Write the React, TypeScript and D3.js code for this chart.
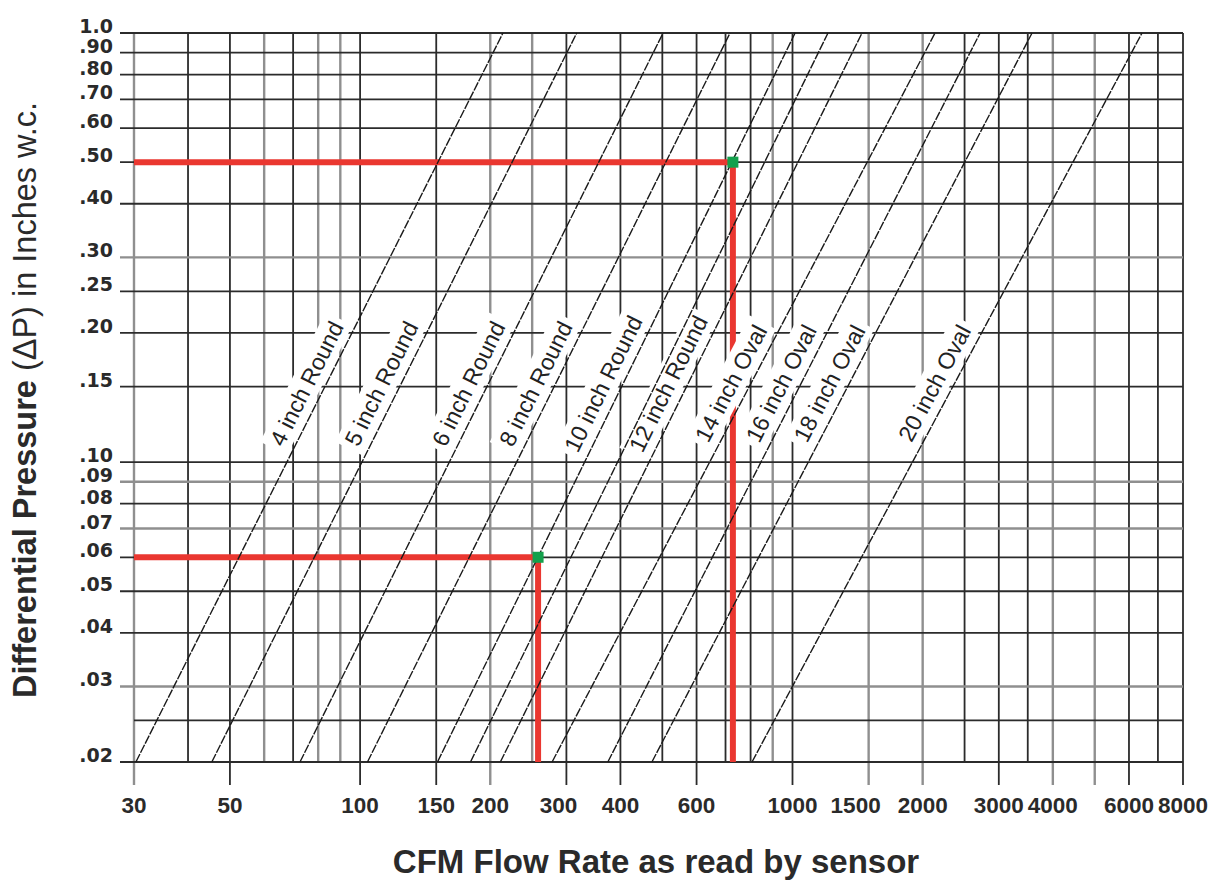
import React from "react";
import * as d3 from "d3";

// ---- data ----
const xTickValues = [30, 50, 100, 150, 200, 300, 400, 600, 1000, 1500, 2000, 3000, 4000, 6000, 8000];
const xTickLabels = ["30", "50", "100", "150", "200", "300", "400", "600", "1000", "1500", "2000", "3000", "4000", "6000", "8000"];
const xExtraTicks = [5000];
const xGridDark = [40, 50, 70, 100, 150, 300, 400, 500, 600, 700, 800, 1000, 2500, 3000, 3500, 6000, 7000, 8000];
const xGridLight = [30, 60, 80, 90, 200, 250, 900, 1500, 2000, 4000, 5000];

const yTickValues = [1.0, 0.9, 0.8, 0.7, 0.6, 0.5, 0.4, 0.3, 0.25, 0.2, 0.15, 0.1, 0.09, 0.08, 0.07, 0.06, 0.05, 0.04, 0.03, 0.02];
const yTickLabels = ["1.0", ".90", ".80", ".70", ".60", ".50", ".40", ".30", ".25", ".20", ".15", ".10", ".09", ".08", ".07", ".06", ".05", ".04", ".03", ".02"];
const yGridDark = [1.0, 0.9, 0.8, 0.7, 0.6, 0.5, 0.4, 0.25, 0.2, 0.15, 0.1, 0.08, 0.06, 0.05, 0.04, 0.025, 0.02];
const yGridLight = [0.3, 0.09, 0.07, 0.03];

// duct curves: CFM at 0.02 in. w.c. and at 1.0 in. w.c.
const ductNames = ["4 inch Round", "5 inch Round", "6 inch Round", "8 inch Round", "10 inch Round", null, "12 inch Round", "14 inch Oval", "16 inch Oval", "18 inch Oval", "20 inch Oval"];
const cfmAtLowDP = [30.3, 45.4, 72.6, 104, 151, 180, 211, 278, 374, 473, 806];
const cfmAtHighDP = [214, 317, 502, 717, 1014, 1208, 1448, 2136, 2715, 3581, 6432];
const lowDP = 0.02;
const highDP = 1.0;

// worked examples (red reading lines)
const exampleCfm = [728, 258];
const exampleDP = [0.5, 0.06];

// ---- layout ----
const W = 1213;
const H = 882;
const X0 = 134, X1 = 1183, Y0 = 762, Y1 = 33;
const LABEL_DP = 0.146;
const LABEL_FONT = 23;
const LABEL_OFFSET = 18; // perpendicular distance of text centre from its line
const xLabelNudge: Record<string, number> = { "300": -8, "1500": -13 };

const x = d3.scaleLog().domain([30, 8000]).range([X0, X1]);
const y = d3.scaleLog().domain([0.02, 1.0]).range([Y0, Y1]);

function flowAt(i: number, dp: number) {
  const f = (Math.log10(dp) - Math.log10(lowDP)) / (Math.log10(highDP) - Math.log10(lowDP));
  return Math.pow(10, Math.log10(cfmAtLowDP[i]) + f * (Math.log10(cfmAtHighDP[i]) - Math.log10(cfmAtLowDP[i])));
}

let measureCtx: CanvasRenderingContext2D | null = null;
function textWidth(s: string, font: string) {
  if (!measureCtx) {
    const c = document.createElement("canvas");
    measureCtx = c.getContext("2d");
  }
  if (!measureCtx) return s.length * 11;
  measureCtx.font = font;
  return measureCtx.measureText(s).width;
}

const DARK = "#2b2b2b";
const LIGHT = "#8f8f8f";
const RED = "#ea3730";
const GREEN = "#14a04c";
const FONT = "'Liberation Sans', Arial, sans-serif";

export default function App() {
  const line = d3
    .line<[number, number]>()
    .x((d) => x(d[0]))
    .y((d) => y(d[1]));

  const ducts = cfmAtLowDP.map((_, i) => {
    const pts: [number, number][] = [
      [cfmAtLowDP[i], lowDP],
      [cfmAtHighDP[i], highDP],
    ];
    const ang = (Math.atan2(y(highDP) - y(lowDP), x(cfmAtHighDP[i]) - x(cfmAtLowDP[i])) * 180) / Math.PI;
    const ax = x(flowAt(i, LABEL_DP));
    const ay = y(LABEL_DP);
    return { i, pts, ang, ax, ay, name: ductNames[i] };
  });

  const labelFont = `${LABEL_FONT}px ${FONT}`;
  const labeled = ducts.filter((d) => d.name);
  const isTick = (v: number) => xTickValues.includes(v) || xExtraTicks.includes(v);

  return (
    <div style={{ position: "absolute", left: 0, top: 0 }}>
      <svg width={W} height={H} style={{ display: "block", background: "#fff" }}>
        {/* vertical grid */}
        {xGridLight.map((v) => (
          <line key={"xl" + v} x1={x(v)} x2={x(v)} y1={Y1} y2={isTick(v) ? 785 : Y0} stroke={LIGHT} strokeWidth={2.4} />
        ))}
        {xGridDark.map((v) => (
          <line key={"xd" + v} x1={x(v)} x2={x(v)} y1={Y1} y2={isTick(v) ? 785 : Y0} stroke={DARK} strokeWidth={1.8} />
        ))}
        {/* horizontal grid */}
        {yGridLight.map((v) => (
          <line key={"yl" + v} x1={120} x2={X1} y1={y(v)} y2={y(v)} stroke={LIGHT} strokeWidth={2.4} />
        ))}
        {yGridDark.map((v) => (
          <line key={"yd" + v} x1={yTickValues.includes(v) ? 120 : X0} x2={X1} y1={y(v)} y2={y(v)} stroke={DARK} strokeWidth={1.8} />
        ))}

        {/* red example lines */}
        {exampleCfm.map((c, i) => (
          <g key={"ex" + i}>
            <line x1={X0} x2={x(c)} y1={y(exampleDP[i])} y2={y(exampleDP[i])} stroke={RED} strokeWidth={6} />
            <line x1={x(c)} x2={x(c)} y1={y(exampleDP[i])} y2={Y0} stroke={RED} strokeWidth={6} />
          </g>
        ))}

        {/* white label backgrounds */}
        {labeled.map((d) => {
          const w = textWidth(d.name as string, labelFont);
          return (
            <g key={"bg" + d.i} transform={`translate(${d.ax},${d.ay}) rotate(${d.ang})`}>
              <rect x={-w / 2 - 5} y={-LABEL_OFFSET - 15} width={w + 10} height={30} fill="#fff" />
            </g>
          );
        })}

        {/* duct lines */}
        {ducts.map((d) => (
          <path key={"duct" + d.i} d={line(d.pts) || ""} fill="none" stroke="#1a1a1a" strokeWidth={1.4} strokeDasharray="9 1.3" />
        ))}

        {/* duct labels */}
        {labeled.map((d) => (
          <g key={"lab" + d.i} transform={`translate(${d.ax},${d.ay}) rotate(${d.ang})`}>
            <text x={0} y={-LABEL_OFFSET + LABEL_FONT * 0.36} textAnchor="middle" fontFamily={FONT} fontSize={LABEL_FONT} fill="#222">
              {d.name}
            </text>
          </g>
        ))}

        {/* green reading points */}
        {exampleCfm.map((c, i) => (
          <rect key={"pt" + i} x={x(c) - 5.5} y={y(exampleDP[i]) - 5.5} width={11} height={11} fill={GREEN} />
        ))}

        {/* y tick labels */}
        {yTickValues.map((v, i) => (
          <text key={"yt" + v} x={113} y={y(v)} textAnchor="end" fontFamily="'DejaVu Sans', sans-serif" fontWeight="bold" fontSize={19} fill="#2a2a2a">
            {yTickLabels[i]}
          </text>
        ))}

        {/* x tick labels */}
        {xTickValues.map((v, i) => (
          <text key={"xt" + v} x={x(v) + (xLabelNudge[xTickLabels[i]] || 0)} y={813} textAnchor="middle" fontFamily={FONT} fontWeight="bold" fontSize={22.5} fill="#2a2a2a">
            {xTickLabels[i]}
          </text>
        ))}

        {/* axis titles */}
        <text x={656} y={873} textAnchor="middle" fontFamily={FONT} fontWeight="bold" fontSize={33} fill="#2a2a2a">
          CFM Flow Rate as read by sensor
        </text>
        <text transform="translate(36,400) rotate(-90)" textAnchor="middle" fontFamily={FONT} fontSize={32.5} fill="#2a2a2a" xmlSpace="preserve">
          <tspan fontWeight="bold">Differential Pressure</tspan>
          <tspan> (ΔP) in Inches w.c.</tspan>
        </text>
      </svg>
    </div>
  );
}
